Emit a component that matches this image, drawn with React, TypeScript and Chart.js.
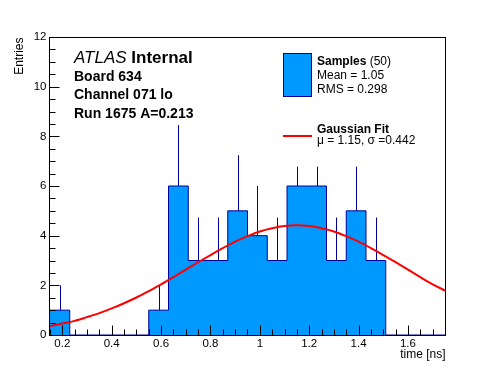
import { useEffect, useRef } from "react";
import { Chart, registerables } from "chart.js";

Chart.register(...registerables);

// ---- data ----
const binEdges = [0.15, 0.23, 0.31, 0.39, 0.47, 0.55, 0.63, 0.71, 0.79, 0.87, 0.95, 1.03, 1.11, 1.19, 1.27, 1.35, 1.43, 1.51, 1.59, 1.67, 1.75];
const counts = [1, 0, 0, 0, 0, 1, 6, 3, 3, 5, 4, 3, 6, 6, 3, 5, 3, 0, 0, 0];
const errorHigh = [2, 0, 0, 0, 0, 2, 8.45, 4.73, 4.73, 7.24, 6, 4.73, 6.78, 6.78, 4.73, 6.78, 4.73, 0, 0, 0];

const fitX = [0.15, 0.2, 0.25, 0.3, 0.35, 0.4, 0.45, 0.5, 0.55, 0.6, 0.65, 0.7, 0.75, 0.8, 0.85, 0.9, 0.95, 1.0, 1.05, 1.1, 1.15, 1.2, 1.25, 1.3, 1.35, 1.4, 1.45, 1.5, 1.55, 1.6, 1.65, 1.7, 1.75];
const fitY = [0.36, 0.46, 0.57, 0.72, 0.88, 1.07, 1.28, 1.51, 1.77, 2.04, 2.33, 2.63, 2.93, 3.22, 3.5, 3.76, 3.98, 4.17, 4.3, 4.39, 4.42, 4.39, 4.3, 4.17, 3.98, 3.76, 3.5, 3.22, 2.93, 2.63, 2.33, 2.04, 1.79];

const xTicks = [0.2, 0.4, 0.6, 0.8, 1.0, 1.2, 1.4, 1.6];
const xTickLabels = ["0.2", "0.4", "0.6", "0.8", "1", "1.2", "1.4", "1.6"];
const xMinorTicks = [0.15, 0.25, 0.3, 0.35, 0.45, 0.5, 0.55, 0.65, 0.7, 0.75, 0.85, 0.9, 0.95, 1.05, 1.1, 1.15, 1.25, 1.3, 1.35, 1.45, 1.5, 1.55, 1.65, 1.7];
const yTicks = [0, 2, 4, 6, 8, 10, 12];
const yTickLabels = ["0", "2", "4", "6", "8", "10", "12"];
const yMinorTicks = [0.5, 1, 1.5, 2.5, 3, 3.5, 4.5, 5, 5.5, 6.5, 7, 7.5, 8.5, 9, 9.5, 10.5, 11, 11.5];

const infoLines = ["Board 634", "Channel 071 lo", "Run 1675 A=0.213"];

const FILL = "#0099ff";
const EDGE = "#000099";
const RED = "#ff0000";
const FONT = '"Liberation Sans", Arial, Helvetica, sans-serif';

const rootPlugin = {
  id: "rootStyle",
  afterDatasetDraw(chart: any, args: any) {
    if (args.index !== 1) return;
    const ctx = chart.ctx;
    const xs = chart.scales.x;
    const ys = chart.scales.y;
    const a = chart.chartArea;
    ctx.save();
    ctx.beginPath();
    ctx.rect(a.left, a.top, a.right - a.left, a.bottom - a.top);
    ctx.clip();
    ctx.strokeStyle = EDGE;
    ctx.lineWidth = 1;
    ctx.beginPath();
    counts.forEach((c, i) => {
      if (c <= 0) return;
      const cx = (binEdges[i] + binEdges[i + 1]) / 2;
      const px = Math.round(xs.getPixelForValue(cx)) + 0.5;
      ctx.moveTo(px, ys.getPixelForValue(c));
      ctx.lineTo(px, ys.getPixelForValue(errorHigh[i]));
    });
    ctx.stroke();
    ctx.restore();
  },
  afterDraw(chart: any) {
    const ctx = chart.ctx;
    const xs = chart.scales.x;
    const ys = chart.scales.y;
    const a = chart.chartArea;
    const L = Math.round(a.left) - 0.5;
    const R = Math.round(a.right) + 0.5;
    const T = Math.round(a.top) + 0.5;
    const B = Math.round(a.bottom) + 0.5;
    ctx.save();
    ctx.strokeStyle = "#000";
    ctx.lineWidth = 1;
    ctx.strokeRect(L, T, R - L, B - T);

    // ticks
    ctx.beginPath();
    xTicks.forEach((v) => {
      const px = Math.round(xs.getPixelForValue(v)) + 0.5;
      ctx.moveTo(px, B);
      ctx.lineTo(px, B - 10);
    });
    xMinorTicks.forEach((v) => {
      const px = Math.round(xs.getPixelForValue(v)) + 0.5;
      ctx.moveTo(px, B);
      ctx.lineTo(px, B - 6);
    });
    yTicks.forEach((v) => {
      const py = Math.round(ys.getPixelForValue(v)) + 0.5;
      ctx.moveTo(L, py);
      ctx.lineTo(L + 10, py);
    });
    yMinorTicks.forEach((v) => {
      const py = Math.round(ys.getPixelForValue(v)) + 0.5;
      ctx.moveTo(L, py);
      ctx.lineTo(L + 6, py);
    });
    ctx.stroke();

    // tick labels
    ctx.fillStyle = "#000";
    ctx.font = `11.5px ${FONT}`;
    ctx.textAlign = "center";
    ctx.textBaseline = "middle";
    xTicks.forEach((v, i) => {
      ctx.fillText(xTickLabels[i], xs.getPixelForValue(v), B + 8.5);
    });
    ctx.textAlign = "right";
    yTicks.forEach((v, i) => {
      ctx.fillText(yTickLabels[i], L - 3, ys.getPixelForValue(v));
    });

    // axis titles
    ctx.font = `12px ${FONT}`;
    ctx.textAlign = "right";
    ctx.fillText("time [ns]", R, 355);
    ctx.save();
    ctx.translate(20, T);
    ctx.rotate(-Math.PI / 2);
    ctx.textAlign = "right";
    ctx.fillText("Entries", 0, 0);
    ctx.restore();

    // ATLAS label
    ctx.textAlign = "left";
    ctx.font = `italic 17px ${FONT}`;
    ctx.fillText("ATLAS", 74, 58);
    const w = ctx.measureText("ATLAS ").width;
    ctx.font = `bold 17px ${FONT}`;
    ctx.fillText("Internal", 74 + w, 58);
    ctx.font = `bold 14px ${FONT}`;
    const infoY = [77, 95.5, 114];
    infoLines.forEach((t, i) => ctx.fillText(t, 74, infoY[i]));

    // legend
    ctx.fillStyle = FILL;
    ctx.fillRect(283.5, 53.5, 28, 43);
    ctx.strokeStyle = EDGE;
    ctx.strokeRect(283.5, 53.5, 28, 43);
    ctx.fillStyle = "#000";
    ctx.font = `bold 12px ${FONT}`;
    ctx.fillText("Samples", 317, 62);
    const ws = ctx.measureText("Samples").width;
    ctx.font = `12px ${FONT}`;
    ctx.fillText(" (50)", 317 + ws, 62);
    ctx.fillText("Mean = 1.05", 317, 76);
    ctx.fillText("RMS = 0.298", 317, 90);

    ctx.strokeStyle = RED;
    ctx.lineWidth = 2;
    ctx.beginPath();
    ctx.moveTo(283, 136);
    ctx.lineTo(312, 136);
    ctx.stroke();
    ctx.font = `bold 12px ${FONT}`;
    ctx.fillText("Gaussian Fit", 317, 129.5);
    ctx.font = `12px ${FONT}`;
    ctx.fillText("\u03bc = 1.15, \u03c3 =0.442", 317, 141);
    ctx.restore();
  },
};

export default function App() {
  const ref = useRef<HTMLCanvasElement | null>(null);
  useEffect(() => {
    if (!ref.current) return;
    const histPoints = binEdges.map((e, i) => ({ x: e, y: i < counts.length ? counts[i] : 0 }));
    const fitPoints = fitX.map((x, i) => ({ x, y: fitY[i] }));
    const chart = new Chart(ref.current, {
      type: "line",
      data: {
        datasets: [
          {
            label: "Gaussian Fit",
            data: fitPoints,
            borderColor: RED,
            borderWidth: 2,
            pointRadius: 0,
            cubicInterpolationMode: "monotone",
            fill: false,
          } as any,
          {
            label: "Samples",
            data: histPoints,
            stepped: "before",
            fill: "origin",
            backgroundColor: FILL,
            borderColor: EDGE,
            borderWidth: 1,
            pointRadius: 0,
          } as any,
        ],
      },
      options: {
        responsive: false,
        animation: false,
        events: [],
        devicePixelRatio: 1,
        layout: { padding: { left: 0, top: 37, right: 51, bottom: 0 } },
        plugins: { legend: { display: false }, tooltip: { enabled: false }, title: { display: false } },
        scales: {
          x: {
            type: "linear",
            min: 0.15,
            max: 1.75,
            ticks: { display: false },
            grid: { display: false },
            border: { display: false },
            afterFit: (s: any) => {
              s.height = 37;
            },
          },
          y: {
            type: "linear",
            min: 0,
            max: 12,
            ticks: { display: false },
            grid: { display: false },
            border: { display: false },
            afterFit: (s: any) => {
              s.width = 50;
            },
          },
        },
      } as any,
      plugins: [rootPlugin],
    });
    return () => chart.destroy();
  }, []);
  return (
    <div style={{ position: "fixed", left: 0, top: 0, width: 496, height: 372, background: "#fff" }}>
      <canvas ref={ref} width={496} height={372} style={{ display: "block", width: 496, height: 372 }} />
    </div>
  );
}
